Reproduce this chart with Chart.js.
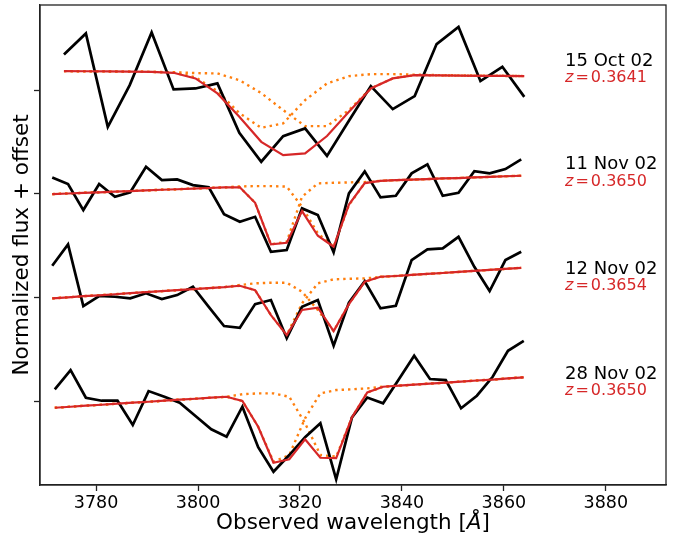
<!DOCTYPE html>
<html>
<head>
<meta charset="utf-8">
<script src="https://cdn.jsdelivr.net/npm/chart.js@4.4.1/dist/chart.umd.min.js"></script>
<style>
html, body { margin: 0; padding: 0; background: #fff; }
</style>
</head>
<body>
<canvas id="spec" width="687" height="538"></canvas>
<script>
// Wavelength grids (Angstrom)
const waveOct = [3773.7, 3778.0, 3782.3, 3786.6, 3790.9, 3795.2, 3799.5, 3803.8, 3808.1, 3812.4, 3816.7,
    3821.0, 3825.3, 3829.6, 3833.9, 3838.2, 3842.5, 3846.8, 3851.1, 3855.4, 3859.7, 3864.0];
const waveNov = [3771.4, 3774.5, 3777.5, 3780.6, 3783.7, 3786.7, 3789.8, 3792.9, 3795.9, 3799.0, 3802.1,
    3805.1, 3808.2, 3811.2, 3814.3, 3817.4, 3820.4, 3823.5, 3826.6, 3829.6, 3832.7, 3835.8, 3838.8, 3841.9,
    3845.0, 3848.0, 3851.1, 3854.2, 3857.2, 3860.3, 3863.4];
const waveNov28 = [3771.9, 3775.0, 3778.0, 3781.1, 3784.2, 3787.2, 3790.3, 3793.4, 3796.4, 3799.5, 3802.6,
    3805.6, 3808.7, 3811.8, 3814.8, 3817.9, 3821.0, 3824.0, 3827.1, 3830.2, 3833.2, 3836.3, 3839.4, 3842.4,
    3845.5, 3848.6, 3851.6, 3854.7, 3857.8, 3860.8, 3863.9];

// 15 Oct 02 (offset 3)
const fluxOct15 = [4.343, 4.546, 3.645, 4.047, 4.555, 4.006, 4.015, 4.064, 3.587, 3.308, 3.555, 3.630, 3.365,
    3.703, 4.038, 3.816, 3.941, 4.443, 4.609, 4.086, 4.224, 3.934];
const modelOct15 = [4.182, 4.181, 4.179, 4.177, 4.175, 4.166, 4.112, 3.967, 3.742, 3.500, 3.372, 3.389, 3.556,
    3.790, 4.015, 4.112, 4.144, 4.141, 4.139, 4.137, 4.136, 4.134];
const compAOct15 = [4.182, 4.181, 4.179, 4.177, 4.175, 4.168, 4.124, 3.989, 3.777, 3.635, 3.678, 3.902, 4.064,
    4.134, 4.153, 4.153, 4.148, 4.144, 4.141, 4.139, 4.137, 4.134];
const compBOct15 = [4.182, 4.181, 4.179, 4.177, 4.175, 4.172, 4.163, 4.160, 4.095, 3.970, 3.806, 3.652, 3.652,
    3.806, 4.015, 4.112, 4.144, 4.141, 4.139, 4.137, 4.136, 4.134];

// 11 Nov 02 (offset 2)
const fluxNov11 = [3.157, 3.093, 2.842, 3.093, 2.970, 3.013, 3.259, 3.131, 3.138, 3.083, 3.061, 2.803, 2.729,
    2.777, 2.440, 2.456, 2.858, 2.794, 2.434, 3.003, 3.215, 2.964, 2.980, 3.196, 3.283, 2.980, 3.009, 3.218,
    3.196, 3.237, 3.331];
const modelNov11 = [2.996, 3.002, 3.008, 3.013, 3.019, 3.025, 3.032, 3.038, 3.043, 3.049, 3.055, 3.061, 3.062,
    2.912, 2.511, 2.527, 2.832, 2.594, 2.488, 2.895, 3.102, 3.124, 3.130, 3.135, 3.141, 3.147, 3.151, 3.157,
    3.162, 3.168, 3.173];
const compANov11 = [2.996, 3.002, 3.008, 3.013, 3.019, 3.025, 3.032, 3.038, 3.043, 3.049, 3.055, 3.061, 3.062,
    2.912, 2.511, 2.537, 2.970, 3.099, 3.105, 3.109, 3.112, 3.124, 3.130, 3.135, 3.141, 3.147, 3.151, 3.157,
    3.162, 3.168, 3.173];
const compBNov11 = [2.996, 3.002, 3.008, 3.013, 3.019, 3.025, 3.032, 3.038, 3.043, 3.049, 3.055, 3.061, 3.070,
    3.073, 3.073, 3.068, 2.874, 2.617, 2.488, 2.890, 3.102, 3.124, 3.130, 3.135, 3.141, 3.147, 3.151, 3.157,
    3.162, 3.168, 3.173];

// 12 Nov 02 (offset 1)
const fluxNov12 = [2.305, 2.511, 1.916, 2.013, 2.006, 1.990, 2.039, 1.984, 2.022, 2.102, 1.909, 1.723, 1.707,
    1.935, 1.974, 1.605, 1.909, 1.974, 1.533, 1.950, 2.155, 1.894, 1.919, 2.360, 2.463, 2.472, 2.584, 2.295,
    2.061, 2.360, 2.440];
const modelNov12 = [1.990, 2.000, 2.011, 2.020, 2.030, 2.040, 2.050, 2.060, 2.069, 2.079, 2.089, 2.098, 2.112,
    2.070, 1.829, 1.636, 1.878, 1.900, 1.675, 1.935, 2.150, 2.199, 2.206, 2.216, 2.226, 2.235, 2.245, 2.256,
    2.265, 2.275, 2.285];
const compANov12 = [1.990, 2.000, 2.011, 2.020, 2.030, 2.040, 2.050, 2.060, 2.069, 2.079, 2.089, 2.098, 2.112,
    2.070, 1.829, 1.636, 1.942, 2.135, 2.174, 2.179, 2.183, 2.196, 2.206, 2.216, 2.226, 2.235, 2.245, 2.256,
    2.265, 2.275, 2.285];
const compBNov12 = [1.990, 2.000, 2.011, 2.020, 2.030, 2.040, 2.050, 2.060, 2.069, 2.079, 2.089, 2.098, 2.119,
    2.135, 2.141, 2.141, 2.054, 1.878, 1.675, 1.935, 2.150, 2.199, 2.206, 2.216, 2.226, 2.235, 2.245, 2.256,
    2.265, 2.275, 2.285];

// 28 Nov 02 (offset 0)
const fluxNov28 = [1.113, 1.299, 1.032, 1.003, 1.003, 0.769, 1.096, 1.041, 0.984, 0.855, 0.727, 0.656, 0.945,
    0.554, 0.318, 0.479, 0.650, 0.785, 0.245, 0.843, 1.034, 0.978, 1.209, 1.437, 1.212, 1.202, 0.930, 1.051,
    1.234, 1.485, 1.581];
const modelNov28 = [0.935, 0.945, 0.955, 0.964, 0.974, 0.984, 0.993, 1.003, 1.013, 1.022, 1.032, 1.041, 1.000,
    0.752, 0.405, 0.438, 0.631, 0.453, 0.450, 0.843, 1.082, 1.138, 1.148, 1.158, 1.168, 1.177, 1.188, 1.198,
    1.207, 1.218, 1.229];
const compANov28 = [0.935, 0.945, 0.955, 0.964, 0.974, 0.984, 0.993, 1.003, 1.013, 1.022, 1.032, 1.041, 1.000,
    0.752, 0.415, 0.479, 0.833, 1.074, 1.106, 1.113, 1.122, 1.138, 1.148, 1.158, 1.168, 1.177, 1.188, 1.198,
    1.207, 1.218, 1.229];
const compBNov28 = [0.935, 0.945, 0.955, 0.964, 0.974, 0.984, 0.993, 1.003, 1.013, 1.022, 1.032, 1.041, 1.065,
    1.074, 1.074, 1.041, 0.785, 0.479, 0.463, 0.843, 1.082, 1.138, 1.148, 1.158, 1.168, 1.177, 1.188, 1.198,
    1.207, 1.218, 1.229];

// Labels
const epochNames = ['15 Oct 02', '11 Nov 02', '12 Nov 02', '28 Nov 02'];
const redshifts = ['0.3641', '0.3650', '0.3654', '0.3650'];
const epochLabelY = [4.28, 3.28, 2.27, 1.26];
const zLabelY = [4.12, 3.11, 2.11, 1.10];
const labelWave = 3872.0;

// Axes
const xTicks = [3780, 3800, 3820, 3840, 3860, 3880];
const yTicks = [1, 2, 3, 4];
const xRange = [3769.0, 3891.8];
const yRange = [0.19, 4.82];

const BLACK = '#000000';
const RED = '#d62728';
const ORANGE = '#ff7f0e';
const FONT = '"DejaVu Sans", sans-serif';

const spectra = [
    { wave: waveOct, flux: fluxOct15, model: modelOct15, a: compAOct15, b: compBOct15 },
    { wave: waveNov, flux: fluxNov11, model: modelNov11, a: compANov11, b: compBNov11 },
    { wave: waveNov, flux: fluxNov12, model: modelNov12, a: compANov12, b: compBNov12 },
    { wave: waveNov28, flux: fluxNov28, model: modelNov28, a: compANov28, b: compBNov28 }
];

function pts(wave, vals) {
    return wave.map((w, i) => ({ x: w, y: vals[i] }));
}

const datasets = [];
spectra.forEach(s => {
    datasets.push({ data: pts(s.wave, s.a), borderColor: ORANGE, borderWidth: 2.4, borderDash: [2.4, 4], order: 3 });
    datasets.push({ data: pts(s.wave, s.b), borderColor: ORANGE, borderWidth: 2.4, borderDash: [2.4, 4], order: 3 });
    datasets.push({ data: pts(s.wave, s.flux), borderColor: BLACK, borderWidth: 2.7, order: 2 });
    datasets.push({ data: pts(s.wave, s.model), borderColor: RED, borderWidth: 2.2, order: 1 });
});

// Frame, axis titles and epoch labels
const annotate = {
    id: 'annotate',
    afterDraw(chart) {
        const { ctx, chartArea: a, scales: { x, y } } = chart;
        ctx.save();
        ctx.strokeStyle = '#222';
        ctx.lineWidth = 1.3;
        ctx.strokeRect(a.left, a.top, a.right - a.left, a.bottom - a.top);

        ctx.textBaseline = 'middle';
        ctx.textAlign = 'left';
        const lx = x.getPixelForValue(labelWave);
        epochNames.forEach((name, i) => {
            ctx.fillStyle = BLACK;
            ctx.font = '18px ' + FONT;
            ctx.fillText(name, lx, y.getPixelForValue(epochLabelY[i]));
            const zy = y.getPixelForValue(zLabelY[i]);
            ctx.fillStyle = RED;
            ctx.font = 'italic 16px ' + FONT;
            ctx.fillText('z', lx, zy);
            let cx = lx + ctx.measureText('z').width + 2;
            ctx.font = '16px ' + FONT;
            ctx.fillText('=', cx, zy);
            cx += ctx.measureText('=').width + 2;
            ctx.fillText(redshifts[i], cx, zy);
        });

        // x axis title with italic Angstrom
        ctx.fillStyle = BLACK;
        ctx.font = '21.5px ' + FONT;
        const t1 = 'Observed wavelength [';
        const t3 = ']';
        const w1 = ctx.measureText(t1).width;
        const w3 = ctx.measureText(t3).width;
        ctx.font = 'italic 21.5px ' + FONT;
        const w2 = ctx.measureText('Å').width;
        let tx = (a.left + a.right) / 2 - (w1 + w2 + w3) / 2;
        const ty = 523;
        ctx.font = '21.5px ' + FONT;
        ctx.fillText(t1, tx, ty);
        ctx.font = 'italic 21.5px ' + FONT;
        ctx.fillText('Å', tx + w1, ty);
        ctx.font = '21.5px ' + FONT;
        ctx.fillText(t3, tx + w1 + w2, ty);

        // y axis title
        ctx.translate(22, (a.top + a.bottom) / 2);
        ctx.rotate(-Math.PI / 2);
        ctx.textAlign = 'center';
        ctx.fillText('Normalized flux + offset', 0, 0);
        ctx.restore();
    }
};

new Chart(document.getElementById('spec'), {
    type: 'line',
    data: { datasets },
    options: {
        responsive: false,
        animation: false,
        devicePixelRatio: 1,
        layout: { padding: { top: 5, right: 21, left: 0, bottom: 0 } },
        elements: {
            point: { radius: 0 },
            line: { tension: 0, fill: false, borderCapStyle: 'butt' }
        },
        plugins: { legend: { display: false }, tooltip: { enabled: false } },
        scales: {
            x: {
                type: 'linear',
                min: xRange[0],
                max: xRange[1],
                afterBuildTicks: s => { s.ticks = xTicks.map(v => ({ value: v })); },
                afterFit: s => { s.height = 53; s.paddingLeft = 0; s.paddingRight = 0; },
                grid: { drawOnChartArea: false, drawTicks: true, tickLength: 6, tickColor: '#222', tickWidth: 1.3 },
                border: { display: true, color: '#222', width: 1.3 },
                ticks: { color: '#000', font: { family: FONT, size: 17.5 }, padding: 2, maxRotation: 0,
                    callback: v => String(v) }
            },
            y: {
                type: 'linear',
                min: yRange[0],
                max: yRange[1],
                afterBuildTicks: s => { s.ticks = yTicks.map(v => ({ value: v })); },
                afterFit: s => { s.width = 40; s.paddingTop = 0; s.paddingBottom = 0; },
                grid: { drawOnChartArea: false, drawTicks: true, tickLength: 6, tickColor: '#222', tickWidth: 1.3 },
                border: { display: true, color: '#222', width: 1.3 },
                ticks: { callback: () => '' }
            }
        }
    },
    plugins: [annotate]
});
</script>
</body>
</html>
